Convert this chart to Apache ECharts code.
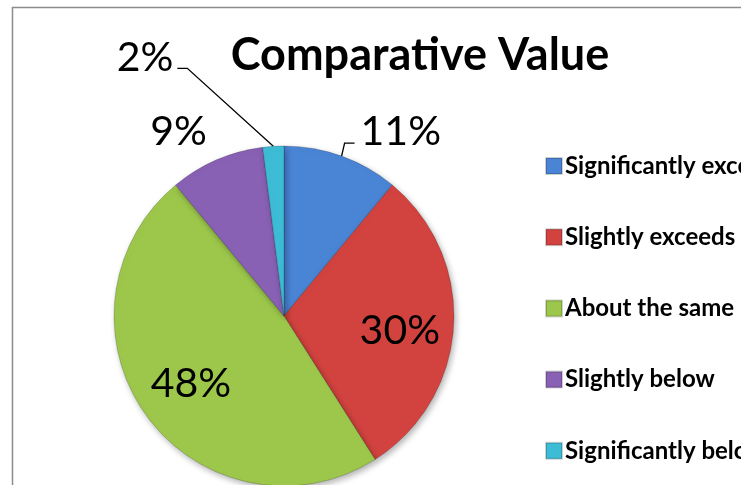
<!DOCTYPE html>
<html>
<head>
<meta charset="utf-8">
<script src="https://cdn.jsdelivr.net/npm/echarts@6/dist/echarts.min.js"></script>
<style>
  html, body { margin: 0; padding: 0; background: #fff; }
  #chart { width: 741px; height: 485px; }
</style>
</head>
<body>
<div id="chart"></div>
<script>
var categories = ['Significantly exceeds', 'Slightly exceeds', 'About the same', 'Slightly below', 'Significantly below'];
var values = [11, 30, 48, 9, 2];
var palette = ['#4A84D4', '#D2433F', '#9CC74B', '#8860B4', '#3DBCD6'];

var cx = 284, cy = 316, r = 170;

var myChart = echarts.init(document.getElementById('chart'));

var pieData = categories.map(function (name, i) {
    var inside = values[i] >= 20;
    return {
        name: name,
        value: values[i],
        label: { position: inside ? 'inside' : 'outside' },
        labelLine: { show: i === 0 || i === 4 }
    };
});

myChart.setOption({
    backgroundColor: '#fff',
    color: palette,
    animation: false,
    title: {
        text: 'Comparative Value',
        left: 420,
        top: 33,
        padding: 0,
        textAlign: 'center',
        textStyle: {
            fontFamily: 'Lato',
            fontWeight: 'bold',
            fontSize: 45,
            color: '#000'
        }
    },
    legend: {
        orient: 'vertical',
        left: 545,
        top: 154,
        padding: 0,
        itemWidth: 16,
        itemHeight: 16,
        itemGap: 47.2,
        icon: 'rect',
        data: categories,
        textStyle: {
            fontFamily: 'Lato',
            fontWeight: 'bold',
            fontSize: 24,
            lineHeight: 24,
            color: '#000',
            padding: [0, 0, 0, -2]
        }
    },
    graphic: [{
        type: 'rect',
        shape: { x: 12.5, y: 7.5, width: 800, height: 600 },
        style: { fill: 'none', stroke: '#8c8c8c', lineWidth: 1.5 },
        silent: true
    }],
    series: [{
        type: 'pie',
        center: [cx, cy],
        radius: r,
        startAngle: 90,
        clockwise: true,
        avoidLabelOverlap: false,
        data: pieData,
        itemStyle: {
            borderColor: 'rgba(0,0,0,0.18)',
            borderWidth: 1,
            shadowBlur: 6,
            shadowOffsetX: 2,
            shadowOffsetY: 3,
            shadowColor: 'rgba(0,0,0,0.3)'
        },
        label: {
            formatter: '{c}%',
            fontFamily: 'Lato',
            fontSize: 41,
            color: '#000'
        },
        labelLine: {
            length: 10,
            length2: 10,
            lineStyle: { color: '#000', width: 1.3 }
        },
        labelLayout: function (p) {
            var i = p.dataIndex;
            var rc = p.rect;
            if (values[i] >= 20) {
                var mx = rc.x + rc.width / 2 - cx;
                var my = rc.y + rc.height / 2 - cy;
                return { dx: mx * 0.4 - 6, dy: my * 0.5 + 6 };
            }
            var s = p.labelLinePoints ? p.labelLinePoints[0] : [rc.x, rc.y];
            if (i === 0) {
                return {
                    x: s[0] + 19, y: s[1] - 24, align: 'left', verticalAlign: 'middle',
                    labelLinePoints: [s, [s[0] + 3, s[1] - 13], [s[0] + 13, s[1] - 13]]
                };
            }
            if (i === 4) {
                return {
                    x: s[0] - 100, y: s[1] - 89, align: 'right', verticalAlign: 'middle',
                    labelLinePoints: [s, [s[0] - 86, s[1] - 78], [s[0] - 96, s[1] - 78]]
                };
            }
            return { x: s[0] - 38, y: s[1] - 28, align: 'center', verticalAlign: 'middle' };
        }
    }]
});
</script>
</body>
</html>
